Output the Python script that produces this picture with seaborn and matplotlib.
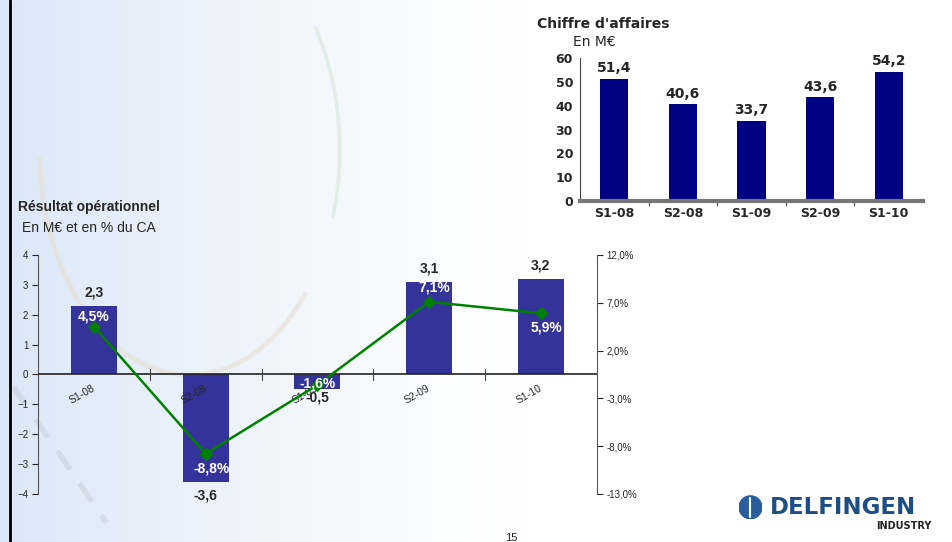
import numpy as np
import matplotlib
matplotlib.use("Agg")
import matplotlib.pyplot as plt
import matplotlib.transforms as mtransforms
from matplotlib.patches import Arc
import seaborn as sns

# data
periods = ["S1-08", "S2-08", "S1-09", "S2-09", "S1-10"]
revenue = [51.4, 40.6, 33.7, 43.6, 54.2]
op_result = [2.3, -3.6, -0.5, 3.1, 3.2]
op_margin = [4.5, -8.8, -1.6, 7.1, 5.9]
rev_ticks = [0, 10, 20, 30, 40, 50, 60]
res_ticks = [-4, -3, -2, -1, 0, 1, 2, 3, 4]
pct_ticks = [-13, -8, -3, 2, 7, 12]

sns.set_style("white")
plt.rcParams["font.family"] = ["Liberation Sans", "DejaVu Sans"]


def fr(v, nd=1):
    return f"{v:.{nd}f}".replace(".", ",")


fig = plt.figure(figsize=(9.53, 5.42), dpi=100)

# background: light blue fade on the left, faint arcs
bg = fig.add_axes([0, 0, 1, 1], zorder=-10)
grad = np.linspace(0, 1, 400)
alpha = np.clip(1 - grad / 0.55, 0, 1) ** 1.2
img = np.ones((10, 400, 3))
base = np.array([0.86, 0.91, 0.97])
for c in range(3):
    img[:, :, c] = 1 - (1 - base[c]) * alpha
bg.imshow(img, aspect="auto", extent=[0, 1, 0, 1])
bg.add_patch(Arc((0.199, 0.723), 0.315, 0.83, theta1=185, theta2=295,
                 color="#e8dfd4", lw=3.5, alpha=0.6))
bg.add_patch(Arc((0.199, 0.723), 0.315, 0.83, theta1=-40, theta2=60,
                 color="#d6e8d6", lw=2.5, alpha=0.6))
bg.plot([0.014, 0.112], [0.286, 0.035], color="#c3cbd5", lw=4,
        ls=(0, (4, 3)), alpha=0.45, solid_capstyle="butt")
bg.plot([0.011, 0.011], [0, 1], color="black", lw=2)
bg.set_xlim(0, 1)
bg.set_ylim(0, 1)
bg.axis("off")

# ---- Chiffre d'affaires ----
ax1 = fig.add_axes([0.6086, 0.629, 0.36, 0.264])
ax1.patch.set_alpha(0)
sns.barplot(x=periods, y=revenue, color="#000080", width=0.41,
            saturation=1, linewidth=0, ax=ax1)
ax1.set_xlim(-0.5, 4.5)
ax1.set_ylim(0, 60)
ax1.set_yticks(rev_ticks)
ax1.tick_params(axis="y", length=3, width=0.8, pad=2, labelsize=9)
ax1.tick_params(axis="x", length=0, pad=4, labelsize=9)
for lab in ax1.get_yticklabels() + ax1.get_xticklabels():
    lab.set_fontweight("bold")
    lab.set_family("DejaVu Sans")
for sp in ["top", "right"]:
    ax1.spines[sp].set_visible(False)
ax1.spines["left"].set_color("#444444")
ax1.spines["left"].set_linewidth(0.8)
ax1.spines["bottom"].set_color("#777777")
ax1.spines["bottom"].set_linewidth(3)
for i in range(1, 5):
    ax1.plot([i - 0.5, i - 0.5], [-1.5, 0], color="#444444", lw=0.8,
             clip_on=False)
for i, v in enumerate(revenue):
    ax1.text(i, v + 1.5, fr(v), ha="center", va="bottom", fontsize=10,
             fontweight="bold", family="DejaVu Sans")
ax1.set_xlabel("")
ax1.set_ylabel("")
fig.text(0.564, 0.955, "Chiffre d'affaires", fontsize=10, fontweight="bold",
         family="DejaVu Sans", va="center")
fig.text(0.601, 0.922, "En M€", fontsize=10, family="DejaVu Sans",
         va="center")

# ---- Résultat opérationnel ----
ax2 = fig.add_axes([0.040, 0.0886, 0.586, 0.441])
ax2.patch.set_alpha(0)
sns.barplot(x=periods, y=op_result, color="#333399", width=0.41,
            saturation=1, linewidth=0, ax=ax2)
ax2.set_xlim(-0.5, 4.5)
ax2.set_ylim(-4, 4)
ax2.set_yticks(res_ticks)
ax2.tick_params(axis="y", length=4, width=0.8, pad=3, labelsize=7)
ax2.set_xticks([])
ax2.set_xlabel("")
ax2.set_ylabel("")
for sp in ["top", "right", "bottom"]:
    ax2.spines[sp].set_visible(False)
ax2.spines["left"].set_color("#555555")
ax2.spines["left"].set_linewidth(0.8)
ax2.axhline(0, color="#222222", lw=1.2, zorder=3)
for i in range(1, 5):
    ax2.plot([i - 0.5, i - 0.5], [-0.17, 0.17], color="#444444", lw=0.8,
             zorder=3)
offs = mtransforms.offset_copy(ax2.transData, fig=fig, x=0, y=-6,
                               units="points")
for i, p in enumerate(periods):
    ax2.text(i - 0.02, 0, p, rotation=30, ha="right", va="top",
             fontsize=7.5, transform=offs, rotation_mode="anchor")
for i, v in enumerate(op_result):
    if v >= 0:
        ax2.text(i, v + 0.22, fr(v), ha="center", va="bottom", fontsize=10,
                 fontweight="bold")
    else:
        ax2.text(i, v - 0.05 if v > -1 else v - 0.2, fr(v), ha="center",
                 va="top", fontsize=10, fontweight="bold")

ax3 = ax2.twinx()
ax3.set_position(ax2.get_position())
sns.lineplot(x=np.arange(len(periods)), y=op_margin, color="#008000",
             lw=1.8, marker="D", markersize=6, markeredgecolor="#008000",
             ax=ax3, zorder=5)
ax3.set_xlim(-0.5, 4.5)
ax3.set_ylim(-13, 12)
ax3.set_yticks(pct_ticks)
ax3.set_yticklabels([fr(t) + "%" for t in pct_ticks])
ax3.tick_params(axis="y", length=4, width=0.8, pad=3, labelsize=7)
for sp in ["top", "left", "bottom"]:
    ax3.spines[sp].set_visible(False)
ax3.spines["right"].set_color("#555555")
ax3.spines["right"].set_linewidth(0.8)
pct_offsets = [1.1, -1.5, 0.2, 1.45, -1.5]
pct_dx = [0.0, 0.05, 0.0, 0.05, 0.05]
for i, dy in enumerate(pct_offsets):
    ax3.text(i + pct_dx[i], op_margin[i] + dy, fr(op_margin[i]) + "%",
             ha="center", va="center", fontsize=10, fontweight="bold",
             color="white", zorder=6)

fig.text(0.019, 0.618, "Résultat opérationnel", fontsize=10,
         fontweight="bold", va="center")
fig.text(0.023, 0.579, "En M€ et en % du CA", fontsize=10, va="center")

# footer
fig.text(0.537, 0.008, "15", fontsize=8, ha="center", va="center")
fig.text(0.808, 0.064, "DELFINGEN", fontsize=16.5, fontweight="bold",
         color="#1d4f86", va="center", family="DejaVu Sans")
fig.text(0.977, 0.030, "INDUSTRY", fontsize=7, fontweight="bold",
         color="#222222", va="center", ha="right", family="DejaVu Sans")
logo = fig.add_axes([0.775, 0.042, 0.025, 0.044])
logo.add_patch(plt.Circle((0.5, 0.5), 0.48, color="#2a5d9c"))
logo.plot([0.5, 0.5], [0.1, 0.9], color="white", lw=1.5)
logo.set_xlim(0, 1)
logo.set_ylim(0, 1)
logo.set_aspect("equal")
logo.axis("off")

fig.savefig("out.png", dpi=100)
